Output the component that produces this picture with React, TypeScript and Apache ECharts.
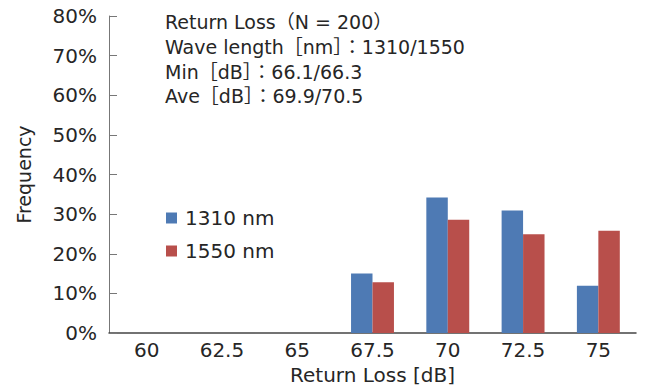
import React, { useEffect, useRef } from "react";
import * as echarts from "echarts";

const categories = ["60", "62.5", "65", "67.5", "70", "72.5", "75"];
const series1310 = [null, null, null, 15.0, 34.2, 30.9, 11.9];
const series1550 = [null, null, null, 12.8, 28.6, 24.9, 25.8];
const seriesNames = ["1310 nm", "1550 nm"];
const infoLines = [
  "Return Loss（N = 200）",
  "Wave length［nm］：1310/1550",
  "Min［dB］：66.1/66.3",
  "Ave［dB］：69.9/70.5",
];

const FONT = "'DejaVu Sans', 'Noto Sans CJK JP', sans-serif";
const TXT = "#262626";

export default function App() {
  const ref = useRef<HTMLDivElement>(null);
  useEffect(() => {
    if (!ref.current) return;
    const chart = echarts.init(ref.current, undefined, { renderer: "svg" });
    chart.setOption({
      animation: false,
      textStyle: { fontFamily: FONT },
      grid: { left: 109, right: 12, top: 16, bottom: 55 },
      legend: {
        orient: "vertical",
        left: 166,
        top: 208,
        padding: 0,
        itemWidth: 11,
        itemHeight: 11,
        itemGap: 13,
        icon: "rect",
        textStyle: { fontFamily: FONT, fontSize: 20, color: TXT, padding: [0, 0, 0, 3] },
        data: seriesNames,
      },
      graphic: [
        {
          type: "text",
          left: 165,
          top: 10,
          style: {
            text: infoLines.join("\n"),
            font: `19px ${FONT}`,
            lineHeight: 24.7,
            fill: TXT,
          },
        },
      ],
      xAxis: {
        type: "category",
        data: categories,
        name: "Return Loss [dB]",
        nameLocation: "middle",
        nameGap: 32,
        nameTextStyle: { fontFamily: FONT, fontSize: 20, color: TXT },
        axisLine: { lineStyle: { color: "#444", width: 1.5 } },
        axisTick: { inside: true, length: 8, lineStyle: { color: "#444" } },
        axisLabel: { fontFamily: FONT, fontSize: 20, color: TXT, margin: 7 },
      },
      yAxis: {
        type: "value",
        min: 0,
        max: 80,
        interval: 10,
        name: "Frequency",
        nameLocation: "middle",
        nameGap: 76,
        nameTextStyle: { fontFamily: FONT, fontSize: 19, color: TXT },
        axisLine: { show: true, lineStyle: { color: "#777", width: 1 } },
        axisTick: { show: true, inside: true, length: 8, lineStyle: { color: "#777" } },
        axisLabel: {
          fontFamily: FONT,
          fontSize: 20,
          color: TXT,
          margin: 12,
          formatter: "{value}%",
        },
        splitLine: { show: false },
      },
      series: [
        {
          name: seriesNames[0],
          type: "bar",
          data: series1310,
          barGap: "0%",
          barCategoryGap: "43%",
          itemStyle: { color: "#4E7AB4" },
        },
        {
          name: seriesNames[1],
          type: "bar",
          data: series1550,
          barGap: "0%",
          barCategoryGap: "43%",
          itemStyle: { color: "#B84F4B" },
        },
      ],
    });
    return () => chart.dispose();
  }, []);
  return (
    <div
      ref={ref}
      style={{ position: "absolute", left: 0, top: 0, width: 648, height: 390 }}
    />
  );
}
